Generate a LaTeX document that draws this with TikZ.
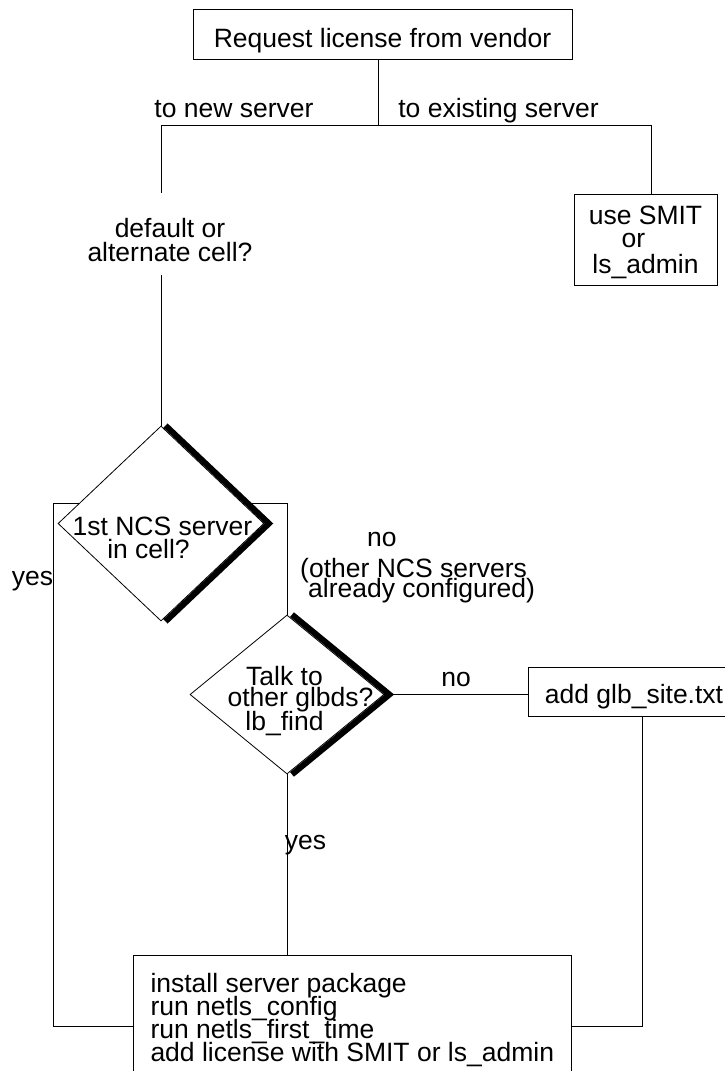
\documentclass[tikz,border=0pt]{standalone}
\usepackage{fontspec}
\setmainfont{Liberation Sans}
\usetikzlibrary{shapes.geometric,backgrounds}
\setlength{\lineskiplimit}{-40pt}
\begin{document}
\begin{tikzpicture}[x=1pt, y=-1pt,
  font=\fontsize{26.5}{23}\selectfont,
  box/.style={draw, line width=1pt, fill=white, inner sep=0pt},
  dec/.style={diamond, draw, line width=0.8pt, fill=white, inner sep=0pt},
  txt/.style={inner sep=0pt},
  thickedge/.style={line width=6pt},
  conn/.style={line width=1pt}]
\useasboundingbox (0,0) rectangle (724,1071);
\node[box, minimum width=379pt, minimum height=50pt, text height=27pt, text depth=0pt] (req) at (382.5,34){Request license from vendor};
\node[box, minimum width=143pt, minimum height=91pt, align=center, text depth=0pt] (smit) at (645.5,239.5){use SMIT\\\hspace*{-24pt}or\\[3pt]ls\_admin};
\node[dec, minimum width=206pt, minimum height=195pt] (ncs) at (161,523.5){};
\node[dec, minimum width=194pt, minimum height=159pt] (glb) at (287,694.5){};
\node[box, minimum width=228pt, minimum height=49pt, text height=23pt, text depth=0pt] (site) at (642,691.5){add glb\_site.txt\hspace*{16pt}};
\node[box, anchor=north west, align=left, inner xsep=17pt, inner ysep=18pt] (inst) at (133,955){install server package\\run netls\_config\\run netls\_first\_time\\add license with SMIT or ls\_admin};
\node[txt, align=center, anchor=north] (ncst) at (162.5,517){1st NCS server\\\hspace*{-28pt}in cell?};
\node[txt, align=center, anchor=north] (glbt) at (300.5,666){\hspace*{-32pt}Talk to\\[-2pt]other glbds?\\[1pt]\hspace*{-32pt}lb\_find};
\node[txt, anchor=base] (lnew) at (234,117){to new server};
\node[txt, anchor=base] (lexist) at (498.5,117){to existing server};
\node[txt, align=center, anchor=north] (dflt) at (170,218){default or\\[1pt]alternate cell?};
\node[txt, anchor=base] (lyes) at (32.5,585){yes};
\node[txt, align=left, anchor=north west, font=\fontsize{26.5}{20}\selectfont] (lnoa) at (300,532){\hspace*{67pt}no\\[11pt](other NCS servers\\\hspace*{8pt}already configured)};
\node[txt, anchor=base] (lnob) at (456,686){no};
\node[txt, anchor=base] (lyesb) at (305.5,849){yes};
\draw[thickedge] ([xshift=4.5pt]ncs.north) -- ([xshift=4.5pt]ncs.east) -- ([xshift=4.5pt]ncs.south);
\draw[thickedge] ([xshift=5pt]glb.north) -- ([xshift=5pt]glb.east) -- ([xshift=5pt]glb.south);
\begin{scope}[on background layer]
\fill[white] (0,0) rectangle (724,1071);
\coordinate (top) at (378,125);
\coordinate (lt) at (161,125);
\coordinate (rt) at (651,125);
\coordinate (dtop) at (161,193);
\coordinate (dbot) at (161,275);
\coordinate (yesc) at (53,503);
\coordinate (noc) at (287,503);
\coordinate (jn) at (0,1026);
\draw[conn] (req.south -| top) -- (top);
\draw[conn] (lt) -- (rt) -- (rt |- smit.north);
\draw[conn] (lt) -- (dtop);
\draw[conn] (dbot) -- (ncs.north);
\draw[conn] (ncs.center |- yesc) -- (yesc) -- (yesc |- jn) -- (inst.west |- jn);
\draw[conn] (ncs.center |- noc) -- (noc) -- (glb.north);
\draw[conn] (glb.south) -- (glb.south |- inst.north);
\draw[conn] (glb.east) -- (site.west |- glb.east);
\draw[conn] (site.south) -- (site.south |- jn) -- (inst.east |- jn);
\end{scope}
\end{tikzpicture}
\end{document}
